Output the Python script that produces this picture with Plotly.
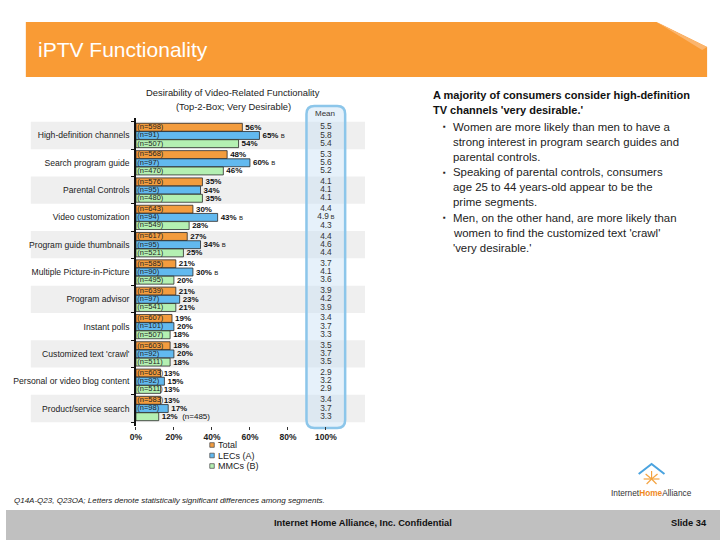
import plotly.graph_objects as go
import numpy as np

# ---------------- data ----------------
categories = ["High-definition channels", "Search program guide", "Parental Controls",
              "Video customization", "Program guide thumbnails", "Multiple Picture-in-Picture",
              "Program advisor", "Instant polls", "Customized text 'crawl'",
              "Personal or video blog content", "Product/service search"]
series_names = ["Total", "LECs (A)", "MMCs (B)"]
total_pct = [56, 48, 35, 30, 27, 21, 21, 19, 18, 13, 13]
lec_pct = [65, 60, 34, 43, 34, 30, 23, 20, 20, 15, 17]
mmc_pct = [54, 46, 35, 28, 25, 20, 21, 18, 18, 13, 12]
total_n = [598, 568, 576, 643, 617, 585, 639, 607, 603, 603, 583]
lec_n = [91, 97, 95, 94, 95, 90, 97, 101, 92, 92, 98]
mmc_n = [507, 470, 480, 549, 521, 495, 541, 507, 511, 511, 485]
total_sig = ["", "", "", "", "", "", "", "", "", "", ""]
lec_sig = ["B", "B", "", "B", "B", "B", "", "", "", "", ""]
mmc_sig = ["", "", "", "", "", "", "", "", "", "", ""]
total_mean = [5.5, 5.3, 4.1, 4.4, 4.4, 3.7, 3.9, 3.4, 3.5, 2.9, 3.4]
lec_mean = [5.8, 5.6, 4.1, 4.9, 4.6, 4.1, 4.2, 3.7, 3.7, 3.2, 3.7]
mmc_mean = [5.4, 5.2, 4.1, 4.3, 4.4, 3.6, 3.9, 3.3, 3.5, 2.9, 3.3]
total_mean_sig = ["", "", "", "", "", "", "", "", "", "", ""]
lec_mean_sig = ["", "", "", "B", "", "", "", "", "", "", ""]
mmc_mean_sig = ["", "", "", "", "", "", "", "", "", "", ""]
x_ticks = [0, 20, 40, 60, 80, 100]
x_tick_labels = ["0%", "20%", "40%", "60%", "80%", "100%"]

colors = ["#F39C3E", "#62B9EF", "#B4F0B2"]
FONT = "Liberation Sans, Arial, sans-serif"

W, H = 720, 540
def px(x):
    return x / W
def py(y):
    return 1 - y / H

idx = np.arange(len(categories))
offsets = [-0.3, 0.0, 0.3]
series = [
    (total_pct, total_n, total_sig, total_mean, total_mean_sig),
    (lec_pct, lec_n, lec_sig, lec_mean, lec_mean_sig),
    (mmc_pct, mmc_n, mmc_sig, mmc_mean, mmc_mean_sig),
]
MEAN_X = 100

fig = go.Figure()
for s, (pct, nn, sig, mean, msig) in enumerate(series):
    ypos = idx + offsets[s]
    out_txt, in_y, in_txt = [], [], []
    for yv, v, n, g in zip(ypos, pct, nn, sig):
        t = f"<b>{v}%</b>" + (f" <span style='font-size:6px'>{g}</span>" if g else "")
        if v < 13:
            t += f"  (n={n})"
        else:
            in_y.append(yv)
            in_txt.append(f"(n={n})")
        out_txt.append(t)
    fig.add_trace(go.Bar(
        y=ypos, x=pct, orientation="h", width=0.29, name=series_names[s],
        marker=dict(color=colors[s], line=dict(color="#2a2a2a", width=0.8)),
        text=out_txt, textposition="outside", constraintext="none", cliponaxis=False,
        textfont=dict(family=FONT, size=8, color="#111"), showlegend=False,
        hoverinfo="skip"))
    fig.add_trace(go.Scatter(
        y=in_y, x=[0.7] * len(in_y), mode="text", text=in_txt,
        textposition="middle right", textfont=dict(family=FONT, size=7.5, color="#222"),
        showlegend=False, hoverinfo="skip", cliponaxis=False))
    mtxt = [f"{m:.1f}" + (f"<span style='font-size:6px'> {g}</span>" if g else "") for m, g in zip(mean, msig)]
    fig.add_trace(go.Scatter(
        y=ypos, x=[MEAN_X] * len(pct), mode="text", text=mtxt,
        textposition="middle center", textfont=dict(family=FONT, size=8.3, color="#333"),
        showlegend=False, hoverinfo="skip", cliponaxis=False))

shapes = []
annotations = []

def note(x, y, text, size, color="#222", xanchor="center", yanchor="middle", align="left"):
    annotations.append(dict(xref="paper", yref="paper", x=px(x), y=py(y), text=text,
                            xanchor=xanchor, yanchor=yanchor, align=align, showarrow=False,
                            borderpad=0, font=dict(family=FONT, size=size, color=color)))

# alternating grey bands
for i in idx:
    if i % 2 == 0:
        shapes.append(dict(type="rect", xref="paper", yref="y", x0=px(25), x1=px(362),
                           y0=i - 0.5, y1=i + 0.5, fillcolor="#EFEFEF",
                           line=dict(width=0), layer="below"))

# mean rounded box
def rounded(x0, y0, x1, y1, r):
    rx, ry = r / W, r / H
    X0, X1 = px(x0), px(x1)
    Y0, Y1 = py(y1), py(y0)
    return (f"M{X0+rx},{Y1} L{X1-rx},{Y1} Q{X1},{Y1} {X1},{Y1-ry} "
            f"L{X1},{Y0+ry} Q{X1},{Y0} {X1-rx},{Y0} L{X0+rx},{Y0} "
            f"Q{X0},{Y0} {X0},{Y0+ry} L{X0},{Y1-ry} Q{X0},{Y1} {X0+rx},{Y1} Z")
shapes.append(dict(type="path", xref="paper", yref="paper", path=rounded(303, 106, 342, 428, 8),
                   fillcolor="rgba(200,225,245,0.45)", line=dict(color="#8CC6EA", width=2.5),
                   layer="below"))
note(322, 113, "Mean", 8, "#333")

# header banner
hdr = (f"M{px(20)},{py(22)} L{px(656)},{py(22)} L{px(707)},{py(47)} "
       f"L{px(707)},{py(77)} L{px(20)},{py(77)} Z")
shapes.append(dict(type="path", xref="paper", yref="paper", path=hdr,
                   fillcolor="#F99B35", line=dict(width=0)))
fold = f"M{px(656)},{py(22)} L{px(707)},{py(47)} L{px(702)},{py(50)} Z"
shapes.append(dict(type="path", xref="paper", yref="paper", path=fold,
                   fillcolor="#FBB56E", line=dict(width=0)))
note(31, 50, "iPTV Functionality", 21, "white", xanchor="left")

# chart title
note(229, 92, "Desirability of Video-Related Functionality", 9.4)
note(229, 106, "(Top-2-Box; Very Desirable)", 9.4)

# legend
for s, name in enumerate(series_names):
    yc = [445, 455.5, 466][s]
    shapes.append(dict(type="rect", xref="paper", yref="paper", x0=px(205.5), x1=px(210),
                       y0=py(yc + 2.3), y1=py(yc - 2.3), fillcolor=colors[s],
                       line=dict(color="#555", width=0.8)))
    note(213, yc, name, 9, xanchor="left")

# right text block
note(430, 95, "<b>A majority of consumers consider high-definition</b>", 11, "#111", xanchor="left")
note(430, 110, "<b>TV channels 'very desirable.'</b>", 11, "#111", xanchor="left")
bullets = [
    (127, ["Women are more likely than men to have a",
           "strong interest in program search guides and", "parental controls."]),
    (172, ["Speaking of parental controls, consumers",
           "age 25 to 44 years-old appear to be the", "prime segments."]),
    (218, ["Men, on the other hand, are more likely than",
           "women to find the customized text 'crawl'", "'very desirable.'"]),
]
for yb, lines in bullets:
    note(442, yb, "▪", 8)
    for k, ln in enumerate(lines):
        note(450, yb + 15 * k, ln, 11.4, xanchor="left")

# footnote
note(7, 500, "<i>Q14A-Q23, Q23OA; Letters denote statistically significant differences among segments.</i>",
     8, xanchor="left")

# footer bar
shapes.append(dict(type="rect", xref="paper", yref="paper", x0=0, x1=1, y0=0, y1=py(510),
                   fillcolor="#C0C0C0", line=dict(width=0)))
note(360, 523, "<b>Internet Home Alliance, Inc. Confidential</b>", 9.3, "#111")
note(689, 523, "<b>Slide 34</b>", 9.3, "#111")

# logo
note(651, 493, "Internet<span style='color:#F08A1E'><b>Home</b></span>Alliance", 8.3, "#333")
shapes.append(dict(type="path", xref="paper", yref="paper",
                   path=f"M{px(638)},{py(474)} L{px(651)},{py(464)} L{px(664)},{py(474)}",
                   line=dict(color="#4AA3DF", width=2)))
for dx, dy in [(0, -8), (6, -5), (-6, -5), (8, 0), (-8, 0), (5, 5), (-5, 5)]:
    shapes.append(dict(type="line", xref="paper", yref="paper", x0=px(651), y0=py(479),
                       x1=px(651 + dx), y1=py(479 + dy), line=dict(color="#F4A340", width=1.2)))

fig.update_layout(
    width=W, height=H, margin=dict(l=0, r=0, t=0, b=0),
    paper_bgcolor="white", plot_bgcolor="rgba(0,0,0,0)",
    barmode="overlay", showlegend=False,
    shapes=shapes, annotations=annotations,
    xaxis=dict(domain=[px(131), px(361)], range=[0, 120], tickvals=x_ticks,
               ticktext=[f"<b>{t}</b>" for t in x_tick_labels], ticks="outside", ticklen=3,
               tickcolor="#333", showgrid=False, zeroline=False, showline=False,
               tickfont=dict(family=FONT, size=8.5, color="#222"), fixedrange=True),
    yaxis=dict(domain=[py(426), py(118)], range=[10.64, -0.64], tickvals=list(idx),
               ticktext=categories, ticks="", showgrid=False, zeroline=False,
               showline=True, linecolor="#111", linewidth=1.5, ticklabelstandoff=3,
               tickfont=dict(family=FONT, size=8.6, color="#222"),
               minor=dict(tickvals=[i + 0.5 for i in idx] + [-0.5], ticks="outside",
                          ticklen=3, tickcolor="#111"),
               fixedrange=True),
    font=dict(family=FONT),
)

fig.write_html("out.html", config={"displayModeBar": False},
               post_script="document.body.style.margin='0';document.body.style.overflow='hidden';")
